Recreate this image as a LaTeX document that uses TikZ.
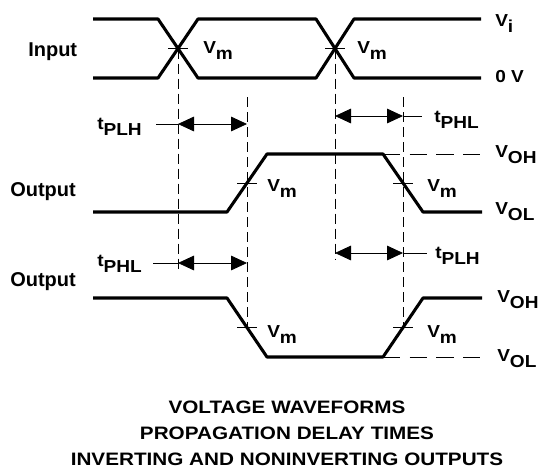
\documentclass[tikz,border=0pt]{standalone}
\usepackage{fontspec}
\newfontfamily\lab{Liberation Sans}[FakeStretch=1.1]
\newfontfamily\ttlfont{Liberation Sans}[FakeStretch=1.15]
\newfontfamily\side{Liberation Sans}
\usetikzlibrary{arrows.meta}
\newcommand\sbs[2]{#1\raisebox{-5pt}{#2}}
\tikzset{
  wave/.style={line width=2.3pt, line join=round},
  dline/.style={line width=0.6pt, dash pattern=on 7.5pt off 3.75pt},
  hdline/.style={line width=0.6pt, dash pattern=on 13pt off 7pt},
  thin line/.style={line width=0.6pt},
  dimarrow/.style={line width=0.6pt, {Triangle[length=12pt,width=11pt]}-{Triangle[length=12pt,width=11pt]}},
  lbl/.style={font=\lab\bfseries\fontsize{13}{15}\selectfont, inner sep=0pt, anchor=base west},
  side/.style={font=\side\bfseries\fontsize{15}{17}\selectfont, inner sep=0pt, anchor=base west},
  ttl/.style={font=\ttlfont\bfseries\fontsize{13.5}{16}\selectfont, inner sep=0pt, anchor=base}
}
\begin{document}
\begin{tikzpicture}[x=0.75pt, y=-0.75pt]
\useasboundingbox (0,0) rectangle (541,471);
% ---------- Input ----------
\coordinate (i1) at (93,19);  \coordinate (i2) at (158,19);
\coordinate (i3) at (198,78); \coordinate (i4) at (316,78);
\coordinate (i5) at (354,19); \coordinate (i6) at (481,19);
\coordinate (j1) at (93,78);  \coordinate (j2) at (158,78);
\coordinate (j3) at (198,19); \coordinate (j4) at (316,19);
\coordinate (j5) at (354,78); \coordinate (j6) at (481,78);
\draw[wave] (i1) -- (i2) -- (i3) -- (i4) -- (i5) -- (i6);
\draw[wave] (j1) -- (j2) -- (j3) -- (j4) -- (j5) -- (j6);
\coordinate (x1) at (178,48.5);
\coordinate (x2) at (335,48.5);
% ---------- Output 1 ----------
\coordinate (a1) at (93,212);  \coordinate (a2) at (227,212);
\coordinate (a3) at (267,154); \coordinate (a4) at (383,154);
\coordinate (a5) at (423,212); \coordinate (a6) at (482,212);
\draw[wave] (a1) -- (a2) -- (a3) -- (a4) -- (a5) -- (a6);
\coordinate (m1) at (247,183);
\coordinate (m2) at (403,183);
\coordinate (ohe) at (482,154);
\draw[hdline] (a4) -- (ohe);
% ---------- Output 2 ----------
\coordinate (b1) at (93,298);  \coordinate (b2) at (227,298);
\coordinate (b3) at (267,357); \coordinate (b4) at (383,357);
\coordinate (b5) at (423,298); \coordinate (b6) at (482,298);
\draw[wave] (b1) -- (b2) -- (b3) -- (b4) -- (b5) -- (b6);
\coordinate (m3) at (247,327.5);
\coordinate (m4) at (403,327.5);
\coordinate (ole) at (482,357);
\draw[hdline] (b4) -- (ole);
% ---------- Vm ticks ----------
\foreach \p in {x1,x2,m1,m2,m3,m4}
  \draw[thin line] ([xshift=-10*0.75pt]\p) -- ([xshift=10*0.75pt]\p);
% ---------- vertical dashed lines ----------
\coordinate (d1e) at (178,273);
\coordinate (d2s) at (247,97);
\coordinate (d3e) at (335,260);
\coordinate (d4s) at (403,97);
\draw[dline] (x1) -- (d1e);
\draw[dline] (d2s) -- (m3);
\draw[dline] (x2) -- (d3e);
\draw[dline] (d4s) -- (m4);
% ---------- delay arrows ----------
\coordinate (p1a) at (178,124); \coordinate (p1b) at (247,124); \coordinate (p1c) at (156,124);
\draw[dimarrow] (p1a) -- (p1b);
\draw[thin line] (p1c) -- (p1a);
\coordinate (p2a) at (335,116); \coordinate (p2b) at (403,116); \coordinate (p2c) at (422,116);
\draw[dimarrow] (p2a) -- (p2b);
\draw[thin line] (p2b) -- (p2c);
\coordinate (p3a) at (178,263); \coordinate (p3b) at (247,263); \coordinate (p3c) at (153,263);
\draw[dimarrow] (p3a) -- (p3b);
\draw[thin line] (p3c) -- (p3a);
\coordinate (p4a) at (335,253); \coordinate (p4b) at (403,253); \coordinate (p4c) at (427,253);
\draw[dimarrow] (p4a) -- (p4b);
\draw[thin line] (p4b) -- (p4c);
% ---------- labels ----------
\node[side] (lin) at (28,56) {Input};
\node[side] (lo1) at (10,196) {Output};
\node[side] (lo2) at (10,286) {Output};
\node[lbl] (vi) at (495,26) {\sbs{V}{i}};
\node[lbl] (v0) at (495,82) {0 V};
\node[lbl] (vm1) at (203,53) {\sbs{V}{m}};
\node[lbl] (vm2) at (357,53) {\sbs{V}{m}};
\node[lbl] (vm3) at (267,191) {\sbs{V}{m}};
\node[lbl] (vm4) at (427,191) {\sbs{V}{m}};
\node[lbl] (vm5) at (267,337) {\sbs{V}{m}};
\node[lbl] (vm6) at (427,337) {\sbs{V}{m}};
\node[lbl] (voh1) at (495,157) {\sbs{V}{OH}};
\node[lbl] (vol1) at (495,214) {\sbs{V}{OL}};
\node[lbl] (voh2) at (497,302) {\sbs{V}{OH}};
\node[lbl] (vol2) at (497,361) {\sbs{V}{OL}};
\node[lbl] (t1) at (97,129) {\sbs{t}{PLH}};
\node[lbl] (t2) at (434,122) {\sbs{t}{PHL}};
\node[lbl] (t3) at (97,266) {\sbs{t}{PHL}};
\node[lbl] (t4) at (435,258) {\sbs{t}{PLH}};
% ---------- title ----------
\node[ttl] (tt1) at (287,413) {VOLTAGE WAVEFORMS};
\node[ttl] (tt2) at (287,439) {PROPAGATION DELAY TIMES};
\node[ttl] (tt3) at (287,465) {INVERTING AND NONINVERTING OUTPUTS};
\end{tikzpicture}
\end{document}
